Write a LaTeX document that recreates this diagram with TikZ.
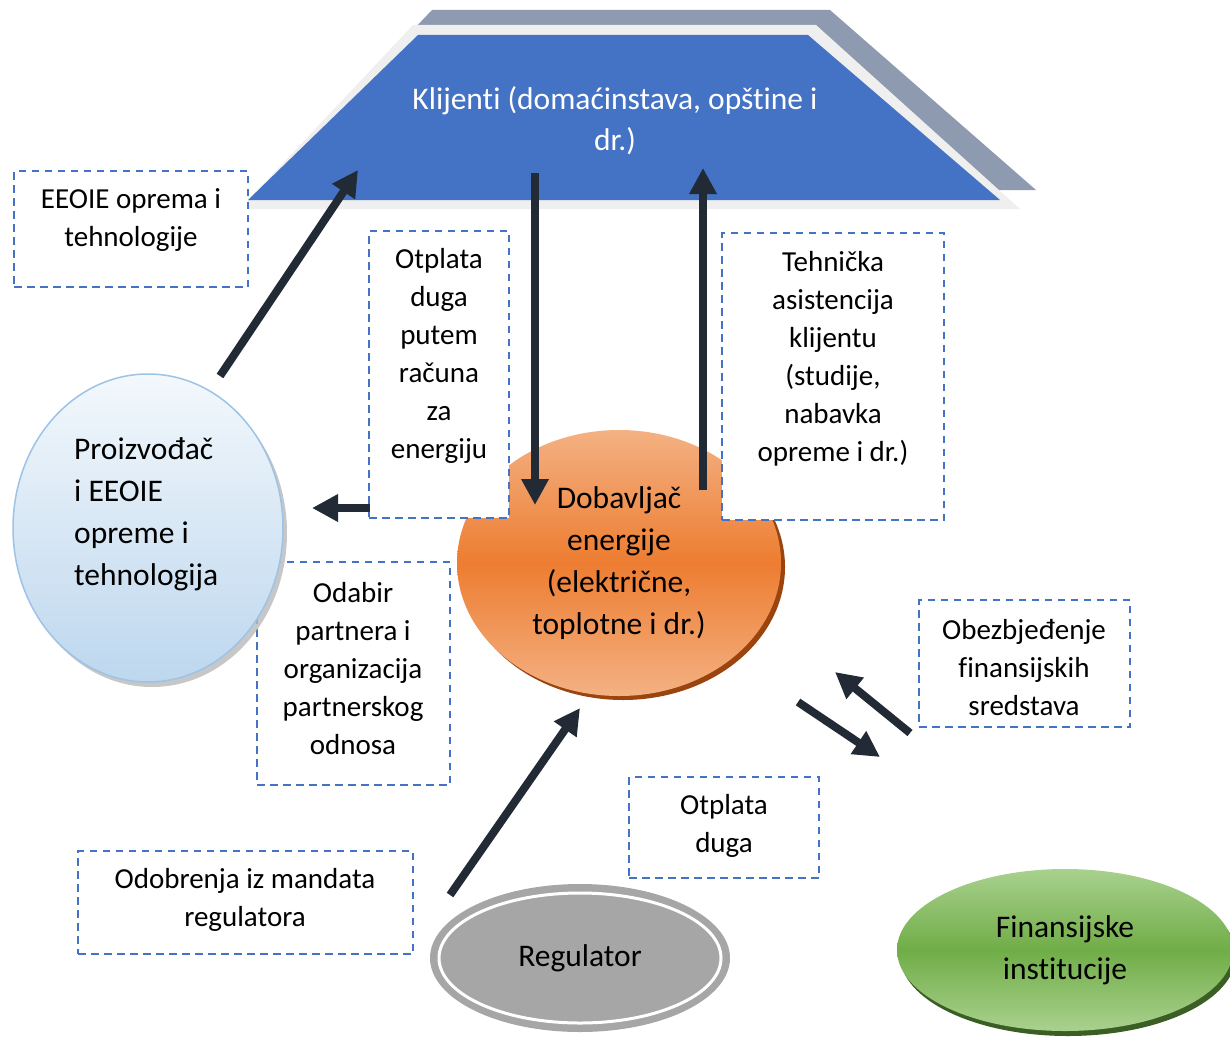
\documentclass[tikz,border=0pt]{standalone}
\usepackage{fontspec}
\setmainfont{Carlito}[Ligatures=NoCommon]
\usetikzlibrary{arrows.meta,shapes.geometric}
\definecolor{navy}{HTML}{222A35}
\definecolor{boxblue}{HTML}{4472C4}
\definecolor{trapgray}{HTML}{8E9AAF}
\definecolor{traplight}{HTML}{EFEFEF}
\definecolor{orlight}{HTML}{F4B183}
\definecolor{ormid}{HTML}{ED7D31}
\definecolor{orshadow}{HTML}{9A4510}
\definecolor{grlight}{HTML}{A9D18E}
\definecolor{grmid}{HTML}{70AD47}
\definecolor{grshadow}{HTML}{3B5E24}
\definecolor{bllight}{HTML}{F3F8FC}
\definecolor{blbottom}{HTML}{BDD7EE}
\definecolor{blline}{HTML}{9DC3E6}
\definecolor{reggray}{HTML}{A6A6A6}
\begin{document}
\begin{tikzpicture}[x=1pt,y=-1pt,
  dbox/.style={rectangle, draw=boxblue, dash pattern=on 7.5pt off 5.5pt, line width=2.3pt, fill=white, inner sep=0pt},
  btxt/.style={font=\fontsize{29}{38}\selectfont, align=center, inner sep=0pt},
  stxt/.style={font=\fontsize{31.5}{42}\selectfont, align=center, inner sep=0pt},
  flow/.style={draw=navy, line width=8pt, -{Triangle[length=26pt,width=26pt]}},
  ell/.style={ellipse, inner sep=0pt},
]
\useasboundingbox (0,0) rectangle (1230,1038);
\begin{scope}
\clip (0,0) rectangle (1230,1038);
% Klijenti trapezoid
\fill[trapgray] (432,10) -- (830,10) -- (1036,190) -- (260,190) -- cycle;
\fill[traplight] (413,25) -- (816,25) -- (1020,209) -- (240,209) -- cycle;
\fill[boxblue] (418,35) -- (808,35) -- (1000,200) -- (248,200) -- cycle;
\node[stxt, text=white, font=\fontsize{31.5}{41}\selectfont] (kl) at (615,121) {Klijenti (domaćinstava, opštine i\\dr.)};

% Dobavljac
\fill[orshadow] (623,567) ellipse [x radius=162, y radius=133];
\node[ell, minimum width=324pt, minimum height=266pt, top color=orlight, bottom color=orlight, middle color=ormid, stxt] (dob) at (619,563)
  {Dobavljač\\energije\\(električne,\\toplotne i dr.)};

% dashed boxes
\node[dbox, minimum width=234pt, minimum height=116pt] (b1) at (131,229) {};
\node[btxt] (t1) at (131,220) {EEOIE oprema i\\tehnologije};
\node[dbox, minimum width=140pt, minimum height=287pt] (b2) at (439,374.5) {};
\node[btxt] (t2) at (439,356) {Otplata\\duga\\putem\\računa\\za\\energiju};
\node[dbox, minimum width=222pt, minimum height=287pt] (b3) at (833,376.5) {};
\node[btxt] (t3) at (833,358.5) {Tehnička\\asistencija\\klijentu\\(studije,\\nabavka\\opreme i dr.)};
\node[dbox, minimum width=193pt, minimum height=223pt] (b4) at (353.5,673.5) {};
\node[btxt] (t4) at (353,668.5) {Odabir\\partnera i\\organizacija\\partnerskog\\odnosa};
\node[dbox, minimum width=211pt, minimum height=127pt] (b5) at (1024.5,663.5) {};
\node[btxt] (t5) at (1024,668) {Obezbjeđenje\\finansijskih\\sredstava};
\node[dbox, minimum width=190pt, minimum height=101pt] (b6) at (724,827.5) {};
\node[btxt] (t6) at (724,826) {Otplata\\duga};
\node[dbox, minimum width=335pt, minimum height=103pt] (b7) at (245.5,902.5) {};
\node[btxt] (t7) at (245,899.5) {Odobrenja iz mandata\\regulatora};

% Proizvodjac
\fill[gray!55, opacity=0.8] (152,533) ellipse [x radius=135, y radius=154];
\node[ell, minimum width=270pt, minimum height=308pt, draw=blline, line width=1.5pt, top color=bllight, bottom color=blbottom] (pro) at (148,528) {};
\node[stxt, align=left, anchor=west] (prot) at (74,514.5) {Proizvođač\\i EEOIE\\opreme i\\tehnologija};

% Regulator
\node[ell, minimum width=300pt, minimum height=148pt, fill=reggray, stxt] (reg) at (580,958) {Regulator};
\draw[white, line width=3pt] (reg.center) ellipse [x radius=141, y radius=65];

% Finansijske institucije
\fill[grshadow] (1068,955) ellipse [x radius=168, y radius=81];
\node[ell, minimum width=336pt, minimum height=162pt, top color=grlight, bottom color=grlight, middle color=grmid, stxt] (fin) at (1065,950) {Finansijske\\institucije};

% arrows
\coordinate (a1s) at (220,376);
\coordinate (a1e) at (358,170);
\coordinate (a2s) at (535,173);
\coordinate (a2e) at (535,505);
\coordinate (a3s) at (703,490);
\coordinate (a3e) at (703,168);
\coordinate (a4s) at (370,508);
\coordinate (a4e) at (312,508);
\coordinate (a5s) at (450,895);
\coordinate (a5e) at (580,708);
\coordinate (a6s) at (798,702);
\coordinate (a6e) at (880,757);
\coordinate (a7s) at (910,733);
\coordinate (a7e) at (835,672);
\draw[flow] (a1s) -- (a1e);
\draw[flow] (a2s) -- (a2e);
\draw[flow] (a3s) -- (a3e);
\draw[flow] (a4s) -- (a4e);
\draw[flow] (a5s) -- (a5e);
\draw[flow] (a6s) -- (a6e);
\draw[flow] (a7s) -- (a7e);
\end{scope}
\end{tikzpicture}
\end{document}
